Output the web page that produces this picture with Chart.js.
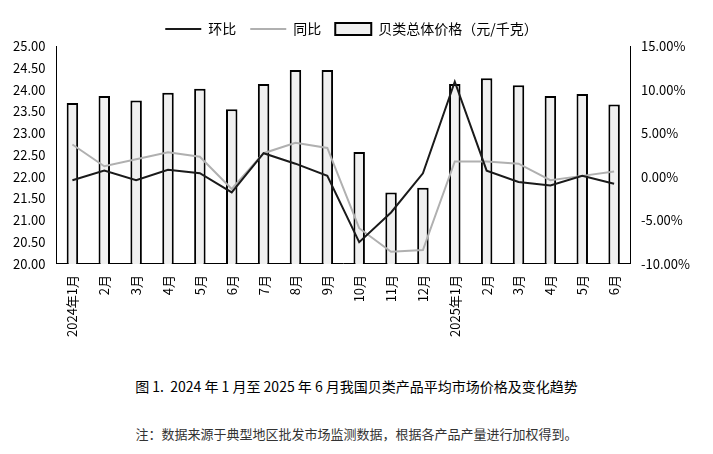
<!DOCTYPE html>
<html><head><meta charset="utf-8">
<script src="https://cdn.jsdelivr.net/npm/chart.js@4"></script>
<style>
body{margin:0;background:#fff;font-family:"Noto Sans CJK SC",sans-serif;}
#wrap{position:relative;width:713px;height:340px;}
.cap{position:absolute;left:0;width:713px;text-align:center;color:#000;}
</style></head><body>
<div id="wrap"><canvas id="c"></canvas></div>
<div class="cap" style="top:376px;font-size:14px;">图 1.&nbsp; 2024 年 1 月至 2025 年 6 月我国贝类产品平均市场价格及变化趋势</div>
<div class="cap" style="top:424px;font-size:13px;color:#333;">注：数据来源于典型地区批发市场监测数据，根据各产品产量进行加权得到。</div>
<script>
const months = ['2024年1月','2月','3月','4月','5月','6月','7月','8月','9月','10月','11月','12月','2025年1月','2月','3月','4月','5月','6月'];
const price = [23.69,23.85,23.75,23.93,24.02,23.55,24.13,24.45,24.45,22.57,21.64,21.75,24.13,24.26,24.10,23.85,23.90,23.66];
const yoy = [3.7,1.2,2.0,2.8,2.3,-1.4,2.7,3.9,3.3,-5.9,-8.6,-8.4,1.75,1.75,1.5,-0.4,0.1,0.6];
const mom = [-0.4,0.7,-0.4,0.8,0.4,-1.8,2.7,1.5,0.1,-7.5,-4.1,0.4,10.9,0.7,-0.6,-1.0,0.1,-0.8];
const c = document.getElementById('c');
c.width = 713; c.height = 340;
Chart.defaults.font.family = '"Noto Sans CJK SC", sans-serif';
Chart.defaults.color = '#000';
new Chart(c, {
  data: {
    labels: months,
    datasets: [
      {type:'bar', label:'贝类总体价格（元/千克）', data: price, yAxisID:'y', backgroundColor:'#f0f0f0', borderColor:'#000', borderWidth:2, barPercentage:0.4, categoryPercentage:0.9, order:3, pointStyle:'rect'},
      {type:'line', label:'同比', data: yoy, yAxisID:'y1', borderColor:'#b0b0b0', backgroundColor:'#b0b0b0', borderWidth:2, pointRadius:0, order:2, pointStyle:'line'},
      {type:'line', label:'环比', data: mom, yAxisID:'y1', borderColor:'#1a1a1a', backgroundColor:'#1a1a1a', borderWidth:2, pointRadius:0, order:1, pointStyle:'line'}
    ]
  },
  options: {
    responsive:false, animation:false,
    layout:{padding:{left:10,right:20,top:8,bottom:0}},
    plugins:{
      legend:{padding:12,labels:{font:{size:14},usePointStyle:true,pointStyleWidth:36,boxHeight:12,padding:14}},
      tooltip:{enabled:false}
    },
    scales:{
      x:{grid:{display:false},border:{color:'#000'},ticks:{maxRotation:90,minRotation:90,font:{size:13},autoSkip:false}},
      y:{position:'left',min:20,max:25,grid:{display:false},border:{color:'#000'},
        ticks:{stepSize:0.5,font:{size:13},callback:v=>v.toFixed(2)}},
      y1:{position:'right',min:-10,max:15,grid:{display:false},border:{color:'#000'},
        ticks:{stepSize:5,font:{size:13},callback:v=>v.toFixed(2)+'%'}}
    }
  }
});
</script>
</body></html>
